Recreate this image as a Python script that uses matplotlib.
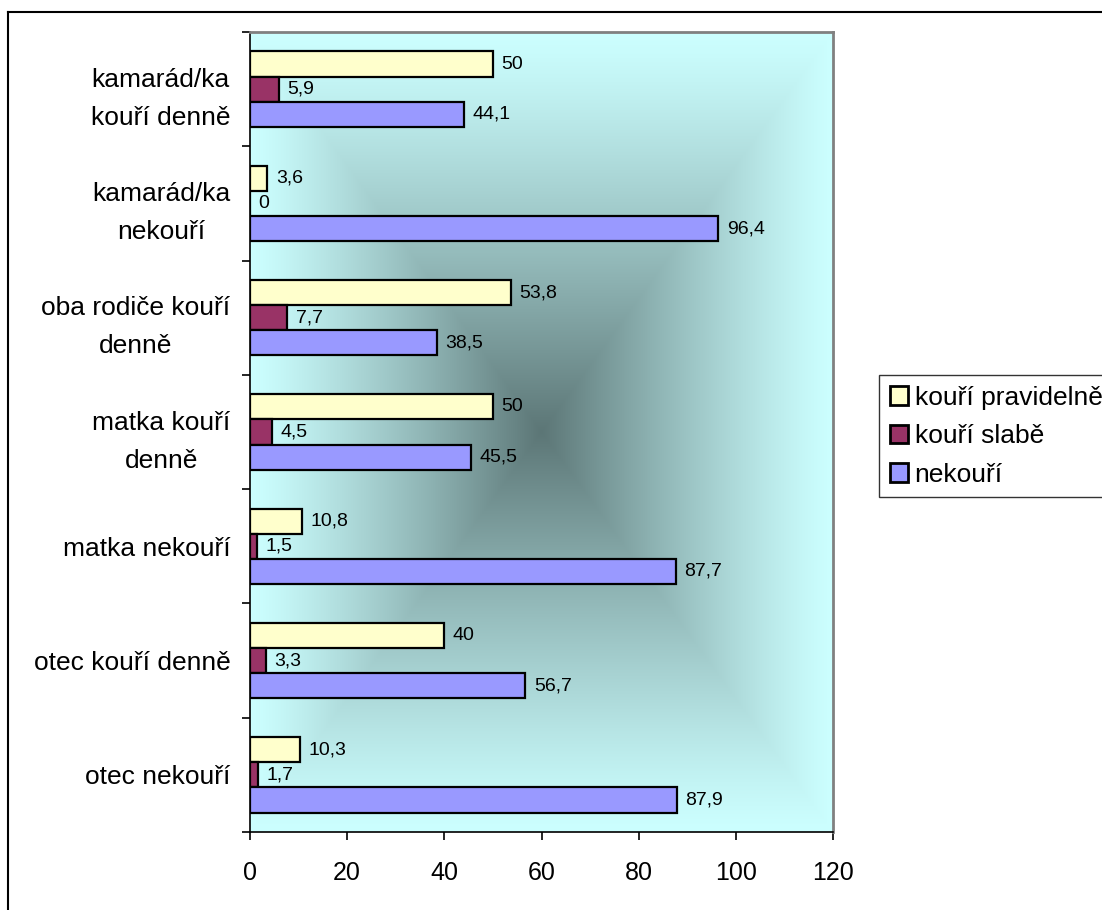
import matplotlib
matplotlib.use("Agg")
import matplotlib.pyplot as plt
import numpy as np
from matplotlib.lines import Line2D

plt.rcParams["font.family"] = ["Liberation Sans", "DejaVu Sans"]

# categories listed bottom to top
categories = [
    "otec nekouří",
    "otec kouří denně",
    "matka nekouří",
    "matka kouří\ndenně",
    "oba rodiče kouří\ndenně",
    "kamarád/ka\nnekouří",
    "kamarád/ka\nkouří denně",
]
series_names = ["kouří pravidelně", "kouří slabě", "nekouří"]
pravidelne = [10.3, 40, 10.8, 50, 53.8, 3.6, 50]
slabe = [1.7, 3.3, 1.5, 4.5, 7.7, 0, 5.9]
nekouri = [87.9, 56.7, 87.7, 45.5, 38.5, 96.4, 44.1]
x_ticks = [0, 20, 40, 60, 80, 100, 120]

colors = ["#FFFFCC", "#993366", "#9999FF"]

W, H = 1102, 910
fig = plt.figure(figsize=(W / 100, H / 100), dpi=100)
ax = fig.add_axes([250 / W, 1 - 832 / H, 583 / W, 800 / H])

# rectangular "from centre" gradient behind the bars
n = 400
u = np.linspace(-1, 1, n)
v = np.linspace(-1, 1, n)
uu, vv = np.meshgrid(u, v)
t = np.maximum(np.abs(uu), np.abs(vv))
edge = np.array([204, 255, 255]) / 255
centre = np.array([92, 118, 118]) / 255
w = (1 - t) ** 1.2
img = edge + (centre - edge) * w[..., None]
ax.imshow(img, extent=[0, 1, 0, 1], transform=ax.transAxes,
          aspect="auto", zorder=0, interpolation="bilinear")

pos = np.arange(len(categories)) + 0.5
h = 0.22
data = [pravidelne, slabe, nekouri]
offsets = [h, 0, -h]
for vals, off, col, name in zip(data, offsets, colors, series_names):
    bars = ax.barh(pos + off, vals, height=h, color=col, edgecolor="black",
                   linewidth=1.6, label=name, zorder=2)
    for b, val in zip(bars, vals):
        lbl = f"{val:g}".replace(".", ",")
        ax.annotate(lbl, (b.get_width(), b.get_y() + b.get_height() / 2),
                    xytext=(6, 0), textcoords="offset points",
                    va="center", ha="left", fontsize=14, zorder=3)

ax.set_xlim(0, 120)
ax.set_ylim(0, len(categories))
ax.set_xticks(x_ticks)
ax.set_xticklabels([str(x) for x in x_ticks], fontsize=18)
ax.set_yticks(pos)
ax.set_yticklabels(categories, fontsize=19, multialignment="center",
                   linespacing=1.75)
ax.set_yticks(np.arange(len(categories) + 1), minor=True)
ax.tick_params(axis="y", which="major", length=0, pad=14)
ax.tick_params(axis="y", which="minor", length=6, width=1.2, direction="out")
ax.tick_params(axis="x", length=6, width=1.2, direction="out", pad=15)

for side in ["top", "right"]:
    ax.spines[side].set_color("#808080")
    ax.spines[side].set_linewidth(2)
for side in ["left", "bottom"]:
    ax.spines[side].set_color("black")
    ax.spines[side].set_linewidth(1.2)

handles, labels = ax.get_legend_handles_labels()
leg = fig.legend(handles, labels, loc="upper left",
                 bbox_to_anchor=(879 / W, 1 - 375 / H), fontsize=19,
                 frameon=True, fancybox=False, edgecolor="black",
                 handlelength=0.7, handleheight=0.7, handletextpad=0.25,
                 borderpad=0.4, labelspacing=0.55, borderaxespad=0)
leg.get_frame().set_linewidth(1.0)
for hnd in leg.legend_handles:
    hnd.set_linewidth(2)

# chart-area border (left and top edges visible)
fig.add_artist(Line2D([8 / W, 8 / W], [0, 1 - 12 / H], color="black", lw=1.5))
fig.add_artist(Line2D([8 / W, 1], [1 - 12 / H, 1 - 12 / H], color="black", lw=1.5))

fig.savefig("out.png", dpi=100)
